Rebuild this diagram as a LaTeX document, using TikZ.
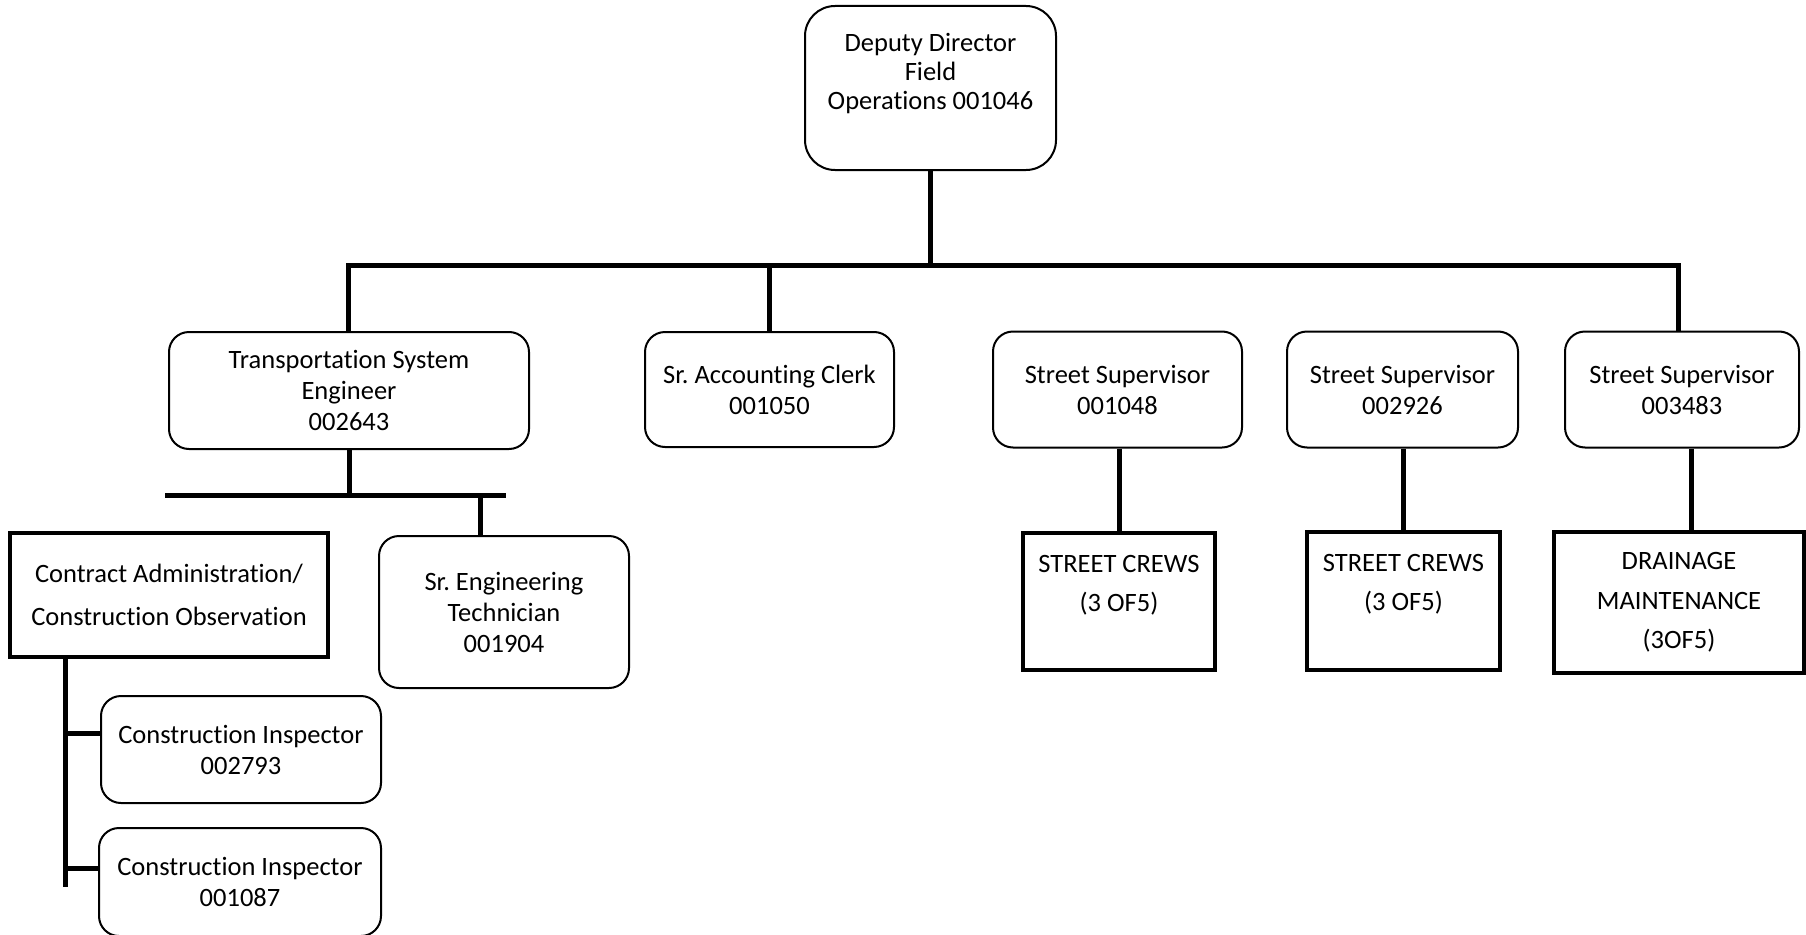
\documentclass[tikz,border=0pt]{standalone}
\usepackage{fontspec}
\setmainfont{Carlito}[Ligatures={NoCommon}]
\frenchspacing
\begin{document}
\begin{tikzpicture}[x=1pt,y=-1pt,
  rbox/.style={draw=black,line width=2pt,rounded corners=20pt,inner sep=0pt,align=center,
    font=\fontsize{26.5}{31}\selectfont\frenchspacing},
  sbox/.style={draw=black,line width=3.5pt,inner sep=0pt,align=center,
    font=\fontsize{26.5}{31}\selectfont},
  lbl/.style={inner sep=0pt,align=center},
  conn/.style={draw=black,line width=5pt,line join=miter}]
\useasboundingbox (0,0) rectangle (1806,934);

% top
\node[rbox,rounded corners=30pt,minimum width=251pt,minimum height=164pt] (dd) at (930.5,88) {};
\node[lbl,font=\fontsize{26.5}{29}\selectfont] (ddt) at (930.5,73.5) {Deputy Director\\Field\\Operations 001046};

% level 2
\node[rbox,minimum width=360pt,minimum height=117pt] (tse) at (349,390.5) {Transportation System\\Engineer\\002643};
\node[rbox,minimum width=249pt,minimum height=115pt] (sac) at (769.5,389.5) {Sr. Accounting Clerk\\001050};
\node[rbox,minimum width=249pt,minimum height=116pt] (ss1) at (1117.5,389.5) {Street Supervisor\\001048};
\node[rbox,minimum width=231pt,minimum height=116pt] (ss2) at (1402.5,389.5) {Street Supervisor\\002926};
\node[rbox,minimum width=234pt,minimum height=116pt] (ss3) at (1682,389.5) {Street Supervisor\\003483};

% level 3
\node[sbox,minimum width=318pt,minimum height=124pt,font=\fontsize{26.5}{43}\selectfont] (ca) at (169,595) {Contract Administration/\\Construction Observation};
\node[rbox,minimum width=250pt,minimum height=152pt] (set) at (504,612) {Sr. Engineering\\Technician\\001904};
\node[rbox,minimum width=280pt,minimum height=107pt] (ci1) at (241,749.5) {Construction Inspector\\002793};
\node[rbox,minimum width=282pt,minimum height=108pt] (ci2) at (240,882) {Construction Inspector\\001087};

\node[sbox,minimum width=192pt,minimum height=137pt] (sc1) at (1119,601.5) {};
\node[lbl,font=\fontsize{26.5}{39}\selectfont] (sc1t) at (1119,585) {STREET CREWS\\(3 OF5)};
\node[sbox,minimum width=193pt,minimum height=138pt] (sc2) at (1403.5,601) {};
\node[lbl,font=\fontsize{26.5}{39}\selectfont] (sc2t) at (1403.5,584.5) {STREET CREWS\\(3 OF5)};
\node[sbox,minimum width=250pt,minimum height=141pt,font=\fontsize{26.5}{39.5}\selectfont] (dm) at (1679,602.5) {DRAINAGE\\MAINTENANCE\\(3OF5)};

% connectors level 1
\coordinate (b1l) at (348,265);
\coordinate (b1r) at (1678,265);
\draw[conn] (dd.south) -- (dd.south |- b1l);
\draw[conn] (b1l |- tse.north) -- (b1l) -- (b1r) -- (b1r |- ss3.north);
\draw[conn] (sac.north |- b1l) -- (sac.north);

% TSE subtree
\coordinate (b2l) at (165,495);
\coordinate (b2r) at (506,495);
\coordinate (b2d) at (480,495);
\draw[conn] (tse.south) -- (tse.south |- b2l);
\draw[conn] (b2l) -- (b2r);
\draw[conn] (b2d) -- (b2d |- set.north);

% CA subtree
\coordinate (cab) at (65,887);
\coordinate (br1) at (65,733);
\coordinate (br2) at (65,868);
\draw[conn] (cab |- ca.south) -- (cab);
\draw[conn] (br1) -- (br1 -| ci1.west);
\draw[conn] (br2) -- (br2 -| ci2.west);

% street supervisors
\draw[conn] (sc1.north |- ss1.south) -- (sc1.north);
\draw[conn] (sc2.north |- ss2.south) -- ([yshift=-4pt]sc2.north);
\draw[conn] ([xshift=9pt]ss3.south) -- ([xshift=9pt]ss3.south |- dm.north);
\end{tikzpicture}
\end{document}
